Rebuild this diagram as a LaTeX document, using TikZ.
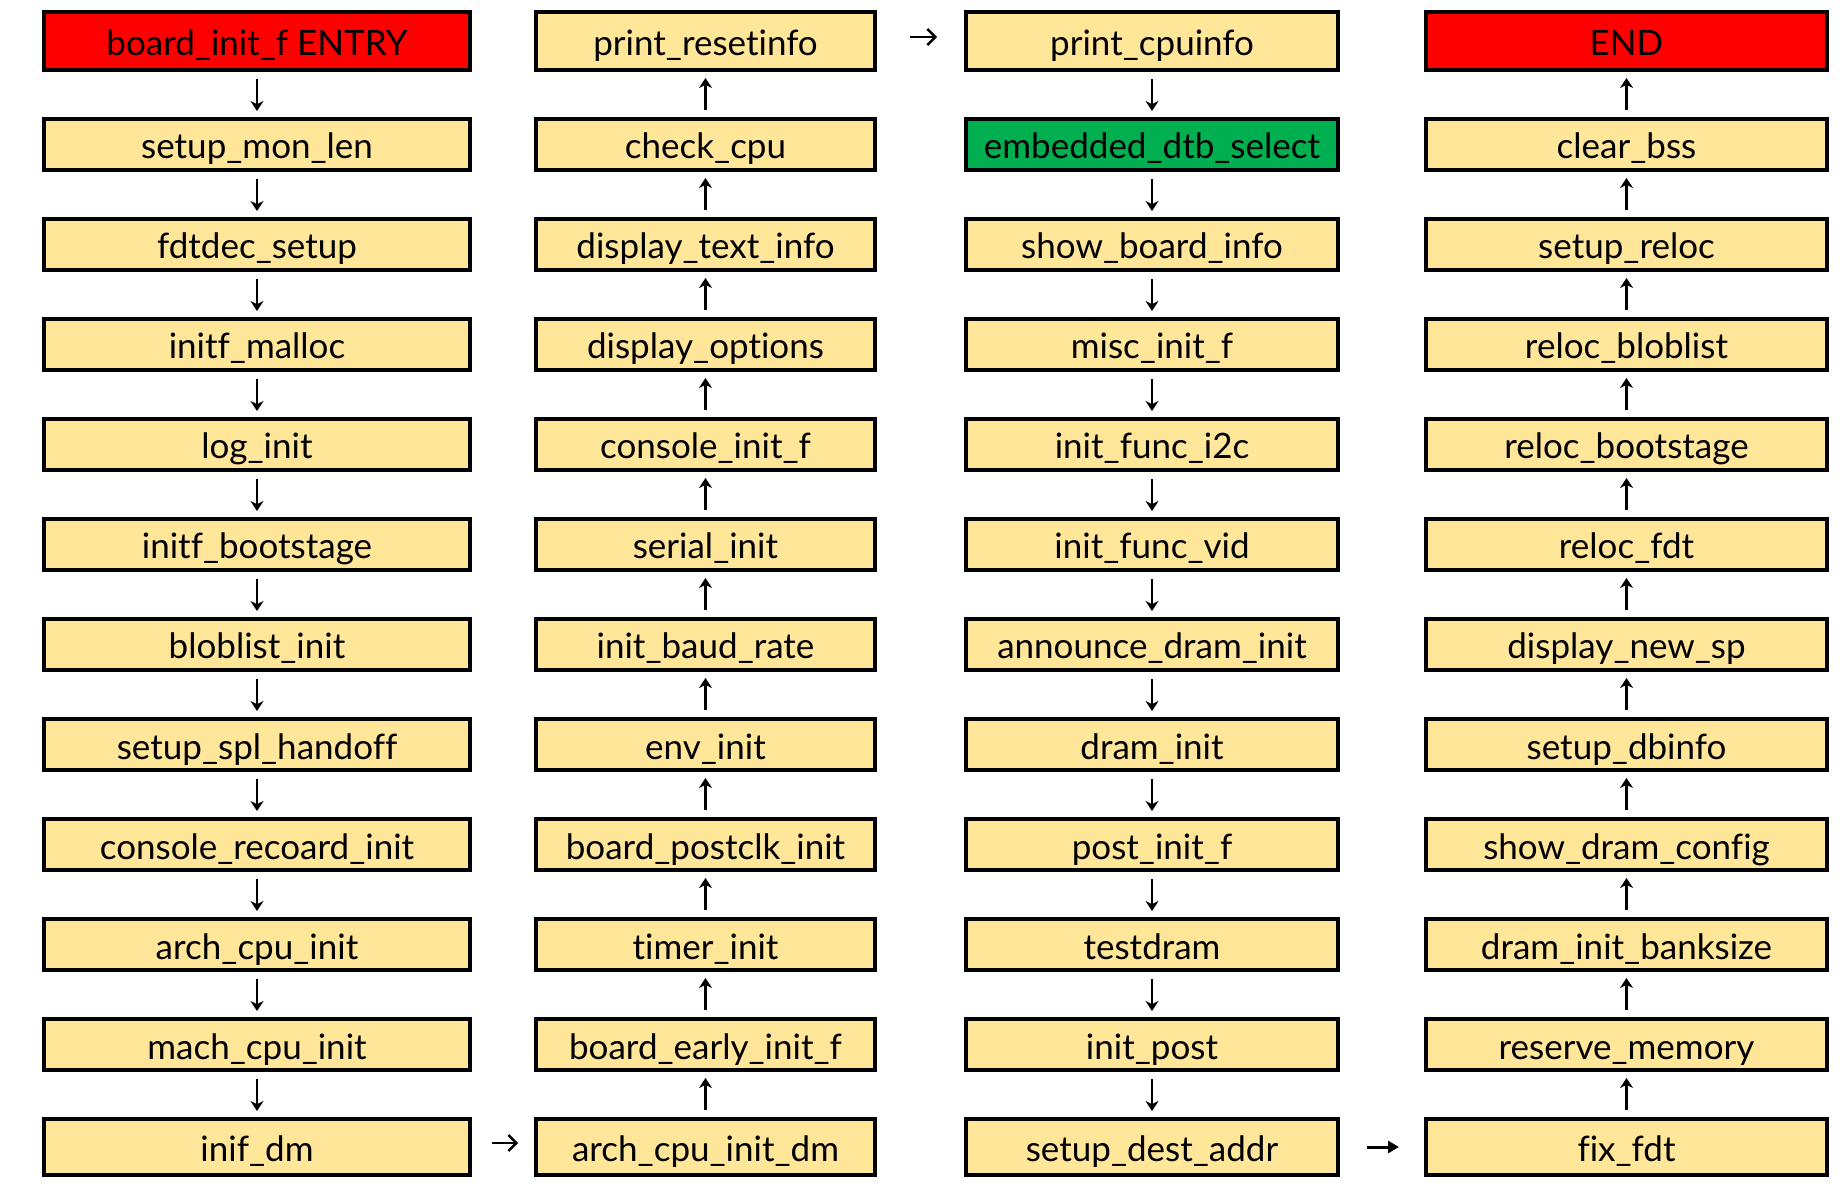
\documentclass[tikz,border=0pt]{standalone}
\usepackage{fontspec}
\setmainfont{Lato}[Ligatures=NoCommon]
\usetikzlibrary{positioning,arrows.meta}

\definecolor{fnyellow}{HTML}{FFE699}
\definecolor{fnred}{HTML}{FF0000}
\definecolor{fngreen}{HTML}{00B050}

\tikzset{
  fn/.style={draw, line width=2pt, fill=fnyellow, rectangle, inner sep=0pt,
    minimum height=25.5pt, text height=14.5pt, text depth=0pt,
    font=\fontsize{17.5}{20}\selectfont},
  endpoint/.style={fn, fill=fnred},
  picked/.style={fn, fill=fngreen},
  tall/.style={minimum height=29pt},
  low/.style={minimum height=28pt},
  colA/.style={minimum width=213pt},
  colB/.style={minimum width=169.5pt},
  colC/.style={minimum width=186pt},
  colD/.style={minimum width=200.5pt},
  flow/.style={-{Stealth[length=5pt,width=6.5pt]}, line width=1.3pt,
    shorten <=3.5pt, shorten >=3pt},
  hop/.style={-{Straight Barb[length=4pt,width=8pt]}, line width=1.2pt},
  jump/.style={-{Triangle[length=5.5pt,width=6pt]}, line width=1.5pt}
}

\begin{document}
\begin{tikzpicture}[x=0.5pt, y=-0.5pt, node distance=22.5pt]
\useasboundingbox (0,0) rectangle (1846,1186);

% first column, going down
\node [endpoint, colA, tall] (entry) at (257,41) {board\_init\_f ENTRY};
\node [fn, colA] (mon_len) [below=of entry] {setup\_mon\_len};
\node [fn, colA] (fdtdec) [below=of mon_len] {fdtdec\_setup};
\node [fn, colA] (malloc) [below=of fdtdec] {initf\_malloc};
\node [fn, colA] (log) [below=of malloc] {log\_init};
\node [fn, colA] (bootstage) [below=of log] {initf\_bootstage};
\node [fn, colA] (bloblist) [below=of bootstage] {bloblist\_init};
\node [fn, colA] (handoff) [below=of bloblist] {setup\_spl\_handoff};
\node [fn, colA] (recoard) [below=of handoff] {console\_recoard\_init};
\node [fn, colA] (arch_cpu) [below=of recoard] {arch\_cpu\_init};
\node [fn, colA] (mach_cpu) [below=of arch_cpu] {mach\_cpu\_init};
\node [fn, colA, low] (inif_dm) [below=of mach_cpu] {inif\_dm};

% second column, going up
\node [fn, colB, low] (arch_dm) at (705.5,1147) {arch\_cpu\_init\_dm};
\node [fn, colB] (early) [above=of arch_dm] {board\_early\_init\_f};
\node [fn, colB] (timer) [above=of early] {timer\_init};
\node [fn, colB] (postclk) [above=of timer] {board\_postclk\_init};
\node [fn, colB] (env) [above=of postclk] {env\_init};
\node [fn, colB] (baud) [above=of env] {init\_baud\_rate};
\node [fn, colB] (serial) [above=of baud] {serial\_init};
\node [fn, colB] (console) [above=of serial] {console\_init\_f};
\node [fn, colB] (options) [above=of console] {display\_options};
\node [fn, colB] (text_info) [above=of options] {display\_text\_info};
\node [fn, colB] (check) [above=of text_info] {check\_cpu};
\node [fn, colB, tall] (resetinfo) [above=of check] {print\_resetinfo};

% third column, going down
\node [fn, colC, tall] (cpuinfo) at (1152,41) {print\_cpuinfo};
\node [picked, colC] (dtb) [below=of cpuinfo] {embedded\_dtb\_select};
\node [fn, colC] (board_info) [below=of dtb] {show\_board\_info};
\node [fn, colC] (misc) [below=of board_info] {misc\_init\_f};
\node [fn, colC] (i2c) [below=of misc] {init\_func\_i2c};
\node [fn, colC] (vid) [below=of i2c] {init\_func\_vid};
\node [fn, colC] (announce) [below=of vid] {announce\_dram\_init};
\node [fn, colC] (dram) [below=of announce] {dram\_init};
\node [fn, colC] (post_f) [below=of dram] {post\_init\_f};
\node [fn, colC] (testdram) [below=of post_f] {testdram};
\node [fn, colC] (post) [below=of testdram] {init\_post};
\node [fn, colC, low] (dest) [below=of post] {setup\_dest\_addr};

% fourth column, going up
\node [fn, colD, low] (fix_fdt) at (1626.5,1147) {fix\_fdt};
\node [fn, colD] (reserve) [above=of fix_fdt] {reserve\_memory};
\node [fn, colD] (banksize) [above=of reserve] {dram\_init\_banksize};
\node [fn, colD] (dram_config) [above=of banksize] {show\_dram\_config};
\node [fn, colD] (dbinfo) [above=of dram_config] {setup\_dbinfo};
\node [fn, colD] (new_sp) [above=of dbinfo] {display\_new\_sp};
\node [fn, colD] (reloc_fdt) [above=of new_sp] {reloc\_fdt};
\node [fn, colD] (reloc_boot) [above=of reloc_fdt] {reloc\_bootstage};
\node [fn, colD] (reloc_blob) [above=of reloc_boot] {reloc\_bloblist};
\node [fn, colD] (reloc) [above=of reloc_blob] {setup\_reloc};
\node [fn, colD] (bss) [above=of reloc] {clear\_bss};
\node [endpoint, colD, tall] (end) [above=of bss] {END};

\path [flow]
(entry) edge (mon_len)
(mon_len) edge (fdtdec)
(fdtdec) edge (malloc)
(malloc) edge (log)
(log) edge (bootstage)
(bootstage) edge (bloblist)
(bloblist) edge (handoff)
(handoff) edge (recoard)
(recoard) edge (arch_cpu)
(arch_cpu) edge (mach_cpu)
(mach_cpu) edge (inif_dm);

\path [flow]
(arch_dm) edge (early)
(early) edge (timer)
(timer) edge (postclk)
(postclk) edge (env)
(env) edge (baud)
(baud) edge (serial)
(serial) edge (console)
(console) edge (options)
(options) edge (text_info)
(text_info) edge (check)
(check) edge (resetinfo);

\path [flow]
(cpuinfo) edge (dtb)
(dtb) edge (board_info)
(board_info) edge (misc)
(misc) edge (i2c)
(i2c) edge (vid)
(vid) edge (announce)
(announce) edge (dram)
(dram) edge (post_f)
(post_f) edge (testdram)
(testdram) edge (post)
(post) edge (dest);

\path [flow]
(fix_fdt) edge (reserve)
(reserve) edge (banksize)
(banksize) edge (dram_config)
(dram_config) edge (dbinfo)
(dbinfo) edge (new_sp)
(new_sp) edge (reloc_fdt)
(reloc_fdt) edge (reloc_boot)
(reloc_boot) edge (reloc_blob)
(reloc_blob) edge (reloc)
(reloc) edge (bss)
(bss) edge (end);

% between the columns
\draw [hop, shorten <=10pt, shorten >=8pt] ([yshift=2pt]inif_dm.east) -- ([yshift=2pt]arch_dm.west);
\draw [hop, shorten <=16.5pt, shorten >=13.5pt] ([yshift=2pt]resetinfo.east) -- ([yshift=2pt]cpuinfo.west);
\draw [jump, shorten <=13.5pt, shorten >=12.5pt] (dest) -- (fix_fdt);
\end{tikzpicture}
\end{document}
